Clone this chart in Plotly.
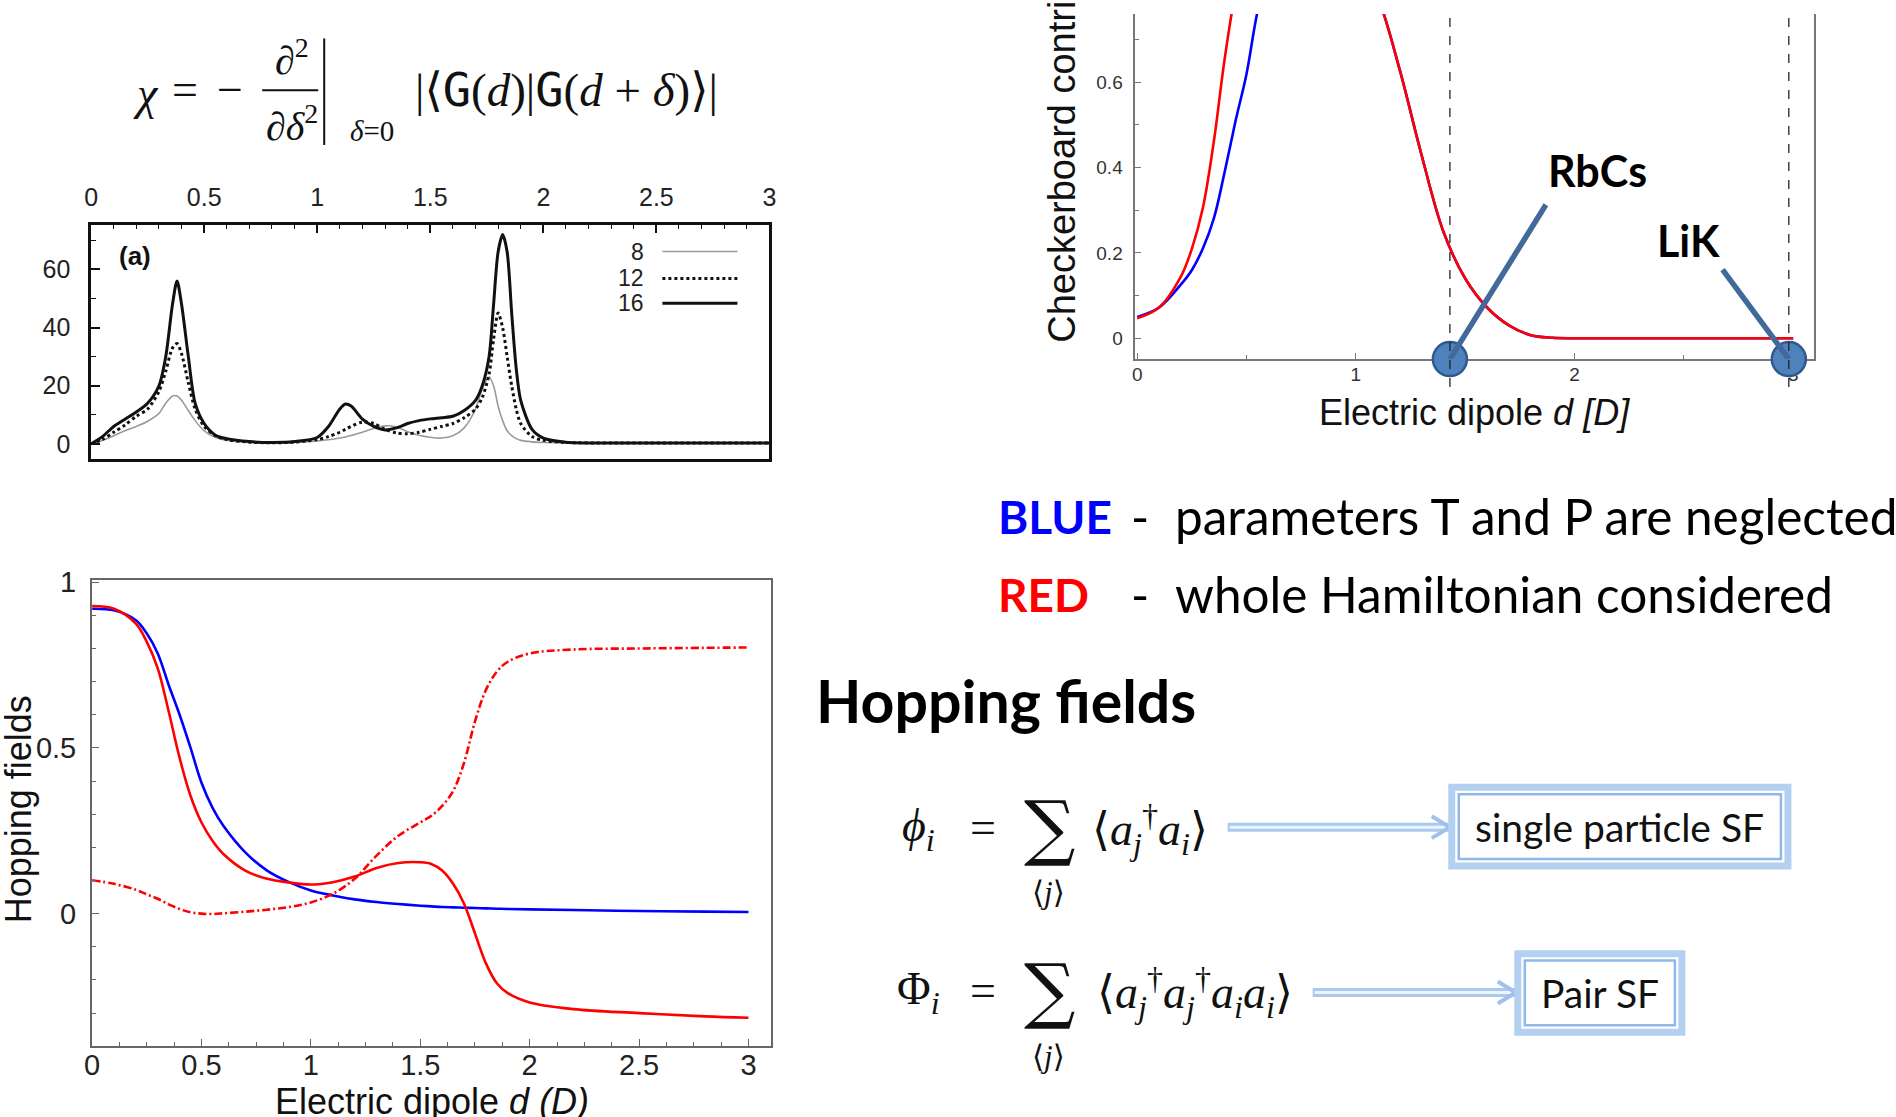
import plotly.graph_objects as go

# The page shows the figure with the browser's default 8 px body margin and the photo comes out
# about 0.9916 times the page size; positions below are given in photo pixels and converted.
OX, OY = 8, 8
SCALE = 0.9916
SHIFT_Y = -3.5
FW, FH = 1896, 1117

# ---------------- data ----------------
chi_x = [0, 0.05, 0.1, 0.15, 0.2, 0.25, 0.3, 0.33, 0.36, 0.38, 0.4, 0.43, 0.46, 0.5, 0.55,
         0.6, 0.7, 0.8, 0.9, 1.0, 1.05, 1.1, 1.125, 1.15, 1.2, 1.25, 1.3, 1.35, 1.4, 1.45,
         1.5, 1.55, 1.6, 1.65, 1.7, 1.73, 1.76, 1.78, 1.8, 1.82, 1.84, 1.86, 1.88, 1.9,
         1.95, 2.0, 2.1, 2.3, 2.6, 3.0]
chi_n8 = [0, 1.2, 2.8, 4.5, 6, 7.8, 10.5, 14, 16.5, 16.5, 15, 11.5, 8, 4.5, 2.2,
          1.2, 0.5, 0.4, 0.5, 1.0, 1.4, 2, 2.4, 2.9, 4, 5.3, 6.2, 5.8, 4.2, 3,
          2.3, 2, 2.8, 5.5, 12, 19, 23, 20, 13, 8, 4.5, 2.8, 1.8, 1.2,
          0.7, 0.5, 0.3, 0.3, 0.3, 0.3]
chi_n12 = [0, 1.5, 4, 6.5, 9.5, 12, 18, 25, 33, 34.5, 31, 21, 12, 6, 2.8,
           1.5, 0.6, 0.4, 0.6, 1.5, 2.5, 4, 5, 6, 7.5, 7, 5, 3.8, 3.5, 4,
           5, 6, 7, 9, 12, 16, 24, 36, 45, 40, 30, 20, 12, 7,
           2.5, 1.2, 0.5, 0.3, 0.3, 0.3]
chi_n16 = [0, 2.5, 6, 8.5, 11, 14, 20, 30, 48, 56, 48, 30, 14, 7, 3,
           1.8, 0.8, 0.5, 0.8, 2.2, 6, 12, 13.7, 13, 8.5, 6, 4.8, 5.5, 7, 8,
           8.6, 9, 9.5, 11.5, 15, 20, 30, 48, 66, 72, 66, 45, 26, 15,
           5, 2, 0.6, 0.3, 0.3, 0.3]
chi_sizes = ["8", "12", "16"]

hop_x = [0, 0.1, 0.2, 0.25, 0.3, 0.35, 0.4, 0.45, 0.5, 0.55, 0.6, 0.7, 0.8, 0.9, 1.0,
         1.1, 1.2, 1.3, 1.4, 1.5, 1.55, 1.6, 1.65, 1.7, 1.75, 1.8, 1.85, 1.9, 2.0,
         2.2, 2.5, 2.8, 3.0]
hop_blue = [0.92, 0.915, 0.885, 0.845, 0.785, 0.69, 0.6, 0.5, 0.395, 0.32, 0.265, 0.185,
            0.13, 0.095, 0.07, 0.055, 0.043, 0.035, 0.029, 0.024, 0.022, 0.02, 0.019,
            0.018, 0.017, 0.016, 0.015, 0.014, 0.013, 0.011, 0.008, 0.006, 0.005]
hop_red = [0.928, 0.92, 0.875, 0.82, 0.74, 0.61, 0.47, 0.355, 0.275, 0.22, 0.18, 0.13,
           0.105, 0.094, 0.088, 0.095, 0.112, 0.138, 0.153, 0.155, 0.15, 0.13, 0.09,
           0.03, -0.06, -0.15, -0.21, -0.24, -0.268, -0.288, -0.3, -0.31, -0.314]
hop_red_pair = [0.101, 0.09, 0.072, 0.058, 0.045, 0.028, 0.014, 0.004, 0.0, -0.001, 0.001,
                0.006, 0.012, 0.02, 0.034, 0.06, 0.105, 0.175, 0.235, 0.275, 0.295, 0.325,
                0.37, 0.455, 0.58, 0.675, 0.73, 0.76, 0.785, 0.797, 0.8, 0.802, 0.803]

chk_x = [0, 0.1, 0.2, 0.25, 0.3, 0.35, 0.4, 0.45, 0.5, 0.55, 0.6, 0.7, 0.8, 0.9, 1.0,
         1.1, 1.2, 1.3, 1.4, 1.5, 1.6, 1.7, 1.8, 1.9, 2.0, 2.2, 2.5, 2.8, 3.0]
chk_blue = [0.05, 0.072, 0.126, 0.16, 0.21, 0.28, 0.39, 0.51, 0.62, 0.765, 0.86, 0.95,
            0.99, 0.97, 0.9, 0.8, 0.63, 0.43, 0.25, 0.14, 0.072, 0.03, 0.007, 0.001,
            0.0, 0.0, 0.0, 0.0, 0.0]
chk_red = [0.047, 0.072, 0.145, 0.21, 0.305, 0.46, 0.655, 0.81, 0.9, 0.95, 0.98, 1.0,
           1.0, 0.97, 0.9, 0.8, 0.63, 0.43, 0.25, 0.14, 0.072, 0.03, 0.007, 0.001,
           0.0, 0.0, 0.0, 0.0, 0.0]

mol_names = ["RbCs", "LiK"]
mol_dipoles = [1.43, 2.98]

# ---------------- helpers: photo pixel -> paper ----------------
def PX(x):
    return (x / SCALE - OX) / FW


def PY(y):
    return 1 - ((y + SHIFT_Y) / SCALE - OY) / FH


SANS = "Liberation Sans, Arial, sans-serif"
SERIF = "Liberation Serif, DejaVu Serif, serif"
SLIDE = "Lato, Open Sans, sans-serif"
MONO = "<span style=\"font-family:'DejaVu Sans Mono'\">G</span>"

fig = go.Figure()

# (a) fidelity susceptibility
chi_styles = [dict(color="#9a9a9a", width=1.6),
              dict(color="#111111", width=3, dash="dot"),
              dict(color="#111111", width=3)]
for lbl, ys, st in zip(chi_sizes, [chi_n8, chi_n12, chi_n16], chi_styles):
    fig.add_trace(go.Scatter(x=chi_x, y=ys, mode="lines", name=lbl, line=dict(shape="spline", smoothing=0.8, **st),
                             xaxis="x", yaxis="y", showlegend=False))

# hopping fields
fig.add_trace(go.Scatter(x=hop_x, y=hop_blue, mode="lines", line=dict(color="#0000ff", width=2.6, shape="spline"),
                         xaxis="x2", yaxis="y2", showlegend=False))
fig.add_trace(go.Scatter(x=hop_x, y=hop_red, mode="lines", line=dict(color="#ff0000", width=2.6, shape="spline"),
                         xaxis="x2", yaxis="y2", showlegend=False))
fig.add_trace(go.Scatter(x=hop_x, y=hop_red_pair, mode="lines",
                         line=dict(color="#ff0000", width=2.6, shape="spline", dash="8px,3px,2px,3px"),
                         xaxis="x2", yaxis="y2", showlegend=False))

# checkerboard
fig.add_trace(go.Scatter(x=chk_x, y=chk_blue, mode="lines", line=dict(color="#0000ff", width=2.6, shape="spline"),
                         xaxis="x3", yaxis="y3", showlegend=False))
fig.add_trace(go.Scatter(x=chk_x, y=chk_red, mode="lines", line=dict(color="#ff0000", width=2.6, shape="spline"),
                         xaxis="x3", yaxis="y3", showlegend=False))

# checkerboard axis: y=0 at photo px 337, 428.5 px per unit; the plot runs up to the top of the figure
chk_top_px = OY * SCALE - SHIFT_Y
chk_yrange = [-0.049, (337 - chk_top_px) / 428.5]

shapes = []
annotations = []

# molecule dashed lines, callouts
for d in mol_dipoles:
    shapes.append(dict(type="line", xref="x3", yref="paper", x0=d, x1=d, y0=PY(386), y1=1.0,
                       line=dict(color="#222222", width=1.3, dash="dash"), layer="above"))
callout_tips = [(1.869, 0.3127), (2.677, 0.161)]
callout_text = [(1597, 169), (1688, 239)]
for d, (tx, ty), name, (lx, ly) in zip(mol_dipoles, callout_tips, mol_names, callout_text):
    shapes.append(dict(type="line", xref="x3", yref="y3", x0=d, y0=chk_yrange[0], x1=tx, y1=ty,
                       line=dict(color="#41699a", width=5.5), layer="above"))
    annotations.append(dict(text="<b>" + name + "</b>", x=PX(lx), y=PY(ly),
                            font=dict(family=SLIDE, size=43, color="#000000")))
fig.add_trace(go.Scatter(x=mol_dipoles, y=[chk_yrange[0]] * len(mol_dipoles), mode="markers",
                         marker=dict(size=34, color="#4f81bd", line=dict(color="#2f5a8c", width=2.5)),
                         cliponaxis=False, xaxis="x3", yaxis="y3", showlegend=False))

# ---------------- axes ----------------
def ax(**kw):
    base = dict(showgrid=False, zeroline=False, showline=True, ticks="inside", fixedrange=True)
    base.update(kw)
    return base


fig.update_layout(
    width=FW, height=FH, autosize=False,
    margin=dict(l=0, r=0, t=0, b=0, pad=0),
    paper_bgcolor="white", plot_bgcolor="white",
    xaxis=ax(domain=[PX(91), PX(769)], anchor="y", side="top", range=[0, 3], dtick=0.5, tick0=0,
             linecolor="#111", linewidth=2.6, mirror=True, ticklen=9, tickwidth=1.5, tickcolor="#111",
             minor=dict(ticks="inside", dtick=0.1, ticklen=5, tickwidth=1.3, tickcolor="#111"),
             tickfont=dict(family=SANS, size=25, color="#222"), ticklabelstandoff=6),
    yaxis=ax(domain=[PY(458), PY(223)], anchor="x", range=[-5.1, 75.4], dtick=20, tick0=0,
             linecolor="#111", linewidth=2.6, mirror=True, ticklen=9, tickwidth=1.5, tickcolor="#111",
             minor=dict(ticks="inside", dtick=10, ticklen=5, tickwidth=1.3, tickcolor="#111"),
             tickfont=dict(family=SANS, size=25, color="#222"), ticklabelstandoff=13),
    xaxis2=ax(domain=[PX(92), PX(771)], anchor="y2", range=[0, 3.105], dtick=0.5, tick0=0,
              linecolor="#666", linewidth=2.2, mirror=True, ticklen=7, tickwidth=1.3, tickcolor="#666",
              minor=dict(ticks="inside", dtick=0.125, ticklen=4, tickwidth=1.1, tickcolor="#666"),
              tickfont=dict(family=SANS, size=29, color="#222"), ticklabelstandoff=-8),
    yaxis2=ax(domain=[PY(1048), PY(580)], anchor="x2", range=[-0.4, 1.006], dtick=0.5, tick0=0,
              linecolor="#666", linewidth=2.2, mirror=True, ticklen=7, tickwidth=1.3, tickcolor="#666",
              minor=dict(ticks="inside", dtick=0.1, ticklen=4, tickwidth=1.1, tickcolor="#666"),
              tickfont=dict(family=SANS, size=29, color="#222"), ticklabelstandoff=8),
    xaxis3=ax(domain=[PX(1134), PX(1813)], anchor="y3", range=[-0.012, 3.095], dtick=1, tick0=0,
              linecolor="#777", linewidth=2.2, mirror=False, ticklen=6, tickwidth=1.2, tickcolor="#777",
              minor=dict(ticks="inside", dtick=0.5, ticklen=4, tickwidth=1.1, tickcolor="#777"),
              tickfont=dict(family=SANS, size=19, color="#333"), ticklabelstandoff=-3, layer="below traces"),
    yaxis3=ax(domain=[PY(358), 1.0], anchor="x3", range=chk_yrange, dtick=0.2, tick0=0,
              linecolor="#777", linewidth=2.2, mirror=True, ticklen=6, tickwidth=1.2, tickcolor="#777",
              minor=dict(ticks="inside", dtick=0.1, ticklen=4, tickwidth=1.1, tickcolor="#777"),
              tickfont=dict(family=SANS, size=19, color="#333"), ticklabelstandoff=6),
)

# ---------------- legend of (a) ----------------
leg_y = [250, 277, 302]
for lbl, st, yy in zip(chi_sizes, chi_styles, leg_y):
    shapes.append(dict(type="line", xref="paper", yref="paper", x0=PX(662), x1=PX(737), y0=PY(yy), y1=PY(yy),
                       line=st))
    annotations.append(dict(text=lbl, x=PX(646), y=PY(yy), xanchor="right",
                            font=dict(family=SANS, size=23, color="#222")))
annotations.append(dict(text="<b>(a)</b>", x=PX(135), y=PY(254),
                        font=dict(family=SANS, size=26, color="#111")))

# ---------------- axis titles ----------------
annotations += [
    dict(text="Hopping fields", x=PX(18), y=PY(810), textangle=-90, font=dict(family=SANS, size=36, color="#111")),
    dict(text="Electric dipole <i>d (D)</i>", x=PX(432), y=PY(1103), font=dict(family=SANS, size=36, color="#111")),
    dict(text="Electric dipole <i>d [D]</i>", x=PX(1474), y=PY(412), font=dict(family=SANS, size=36, color="#111")),
    dict(text="Checkerboard contribution", x=PX(1062), y=PY(344), textangle=-90, yanchor="bottom",
         font=dict(family=SANS, size=38, color="#111")),
]

# ---------------- chi formula ----------------
annotations += [
    dict(text="<i>χ</i>", x=PX(146), y=PY(91), font=dict(family=SERIF, size=46, color="#111")),
    dict(text="=", x=PX(185), y=PY(87), font=dict(family=SERIF, size=46, color="#111")),
    dict(text="−", x=PX(230), y=PY(87), font=dict(family=SERIF, size=46, color="#111")),
    dict(text="∂<sup>2</sup>", x=PX(292), y=PY(55), font=dict(family=SERIF, size=40, color="#111")),
    dict(text="∂<i>δ</i><sup>2</sup>", x=PX(292), y=PY(121), font=dict(family=SERIF, size=40, color="#111")),
    dict(text="<i>δ</i>=0", x=PX(372), y=PY(129), font=dict(family=SERIF, size=29, color="#111")),
    dict(text="|⟨" + MONO + "(<i>d</i>)|" + MONO + "(<i>d</i> + <i>δ</i>)⟩|", x=PX(566), y=PY(87),
         font=dict(family=SERIF, size=47, color="#111")),
]
shapes += [
    dict(type="line", xref="paper", yref="paper", x0=PX(262), x1=PX(318), y0=PY(88), y1=PY(88),
         line=dict(color="#111", width=2)),
    dict(type="line", xref="paper", yref="paper", x0=PX(324), x1=PX(324), y0=PY(36), y1=PY(143),
         line=dict(color="#111", width=2)),
]

# ---------------- right-hand slide text ----------------
annotations += [
    dict(text="<b>BLUE</b>", x=PX(995), y=PY(516), xanchor="left", font=dict(family=SLIDE, size=46, color="#0000ff")),
    dict(text="-", x=PX(1139), y=PY(516), font=dict(family=SLIDE, size=49, color="#000")),
    dict(text="parameters T and P are neglected", x=PX(1172), y=PY(516), xanchor="left",
         font=dict(family=SLIDE, size=49.5, color="#000")),
    dict(text="<b>RED</b>", x=PX(995), y=PY(594), xanchor="left", font=dict(family=SLIDE, size=46, color="#ff0000")),
    dict(text="-", x=PX(1139), y=PY(594), font=dict(family=SLIDE, size=49, color="#000")),
    dict(text="whole Hamiltonian considered", x=PX(1172), y=PY(594), xanchor="left",
         font=dict(family=SLIDE, size=49.5, color="#000")),
    dict(text="<b>Hopping fields</b>", x=PX(814), y=PY(701), xanchor="left",
         font=dict(family=SLIDE, size=59, color="#000")),
]

# formulas
for sym, yy, body, bx in [("<i>ϕ</i><sub><i>i</i></sub>", 830, "⟨<i>a</i><sub><i>j</i></sub><sup>†</sup><i>a</i><sub><i>i</i></sub>⟩", 1149),
                          ("Φ<sub><i>i</i></sub>", 994,
                           "⟨<i>a</i><sub><i>j</i></sub><sup>†</sup><i>a</i><sub><i>j</i></sub><sup>†</sup><i>a</i><sub><i>i</i></sub><i>a</i><sub><i>i</i></sub>⟩", 1194)]:
    annotations += [
        dict(text=sym, x=PX(918), y=PY(yy), font=dict(family=SERIF, size=46, color="#111")),
        dict(text="=", x=PX(982), y=PY(yy - 2), font=dict(family=SERIF, size=46, color="#111")),
        dict(text="∑", x=PX(1049), y=PY(yy - 2), font=dict(family="DejaVu Serif, serif", size=72, color="#111")),
        dict(text="⟨<i>j</i>⟩", x=PX(1048), y=PY(yy + 64), font=dict(family=SERIF, size=31, color="#111")),
        dict(text=body, x=PX(bx), y=PY(yy), font=dict(family=SERIF, size=46, color="#111")),
    ]

# arrows + boxes
for (ax0, ax1, ay), (bx0, by0, bx1, by1), label in [
        ((1227, 1449, 828), (1451, 788, 1787, 867), "single particle SF"),
        ((1312, 1515, 994), (1517, 955, 1681, 1034), "Pair SF")]:
    shapes += [
        dict(type="line", xref="paper", yref="paper", x0=PX(ax0), x1=PX(ax1), y0=PY(ay), y1=PY(ay),
             line=dict(color="#a9c9ef", width=9)),
        dict(type="line", xref="paper", yref="paper", x0=PX(ax0 + 2), x1=PX(ax1 - 4), y0=PY(ay), y1=PY(ay),
             line=dict(color="#eef4fc", width=3)),
        dict(type="path", xref="paper", yref="paper",
             path="M %f %f L %f %f L %f %f" % (PX(ax1 - 18), PY(ay - 11), PX(ax1), PY(ay), PX(ax1 - 18), PY(ay + 11)),
             line=dict(color="#9fc2ec", width=4)),
        dict(type="rect", xref="paper", yref="paper", x0=PX(bx0), x1=PX(bx1), y0=PY(by0), y1=PY(by1),
             line=dict(color="#b3d0f1", width=7)),
        dict(type="rect", xref="paper", yref="paper", x0=PX(bx0 + 7), x1=PX(bx1 - 7), y0=PY(by0 + 7), y1=PY(by1 - 7),
             line=dict(color="#8fb7e8", width=2.5)),
    ]
    annotations.append(dict(text=label, x=PX((bx0 + bx1) / 2), y=PY((by0 + by1) / 2),
                            font=dict(family=SLIDE, size=39, color="#111")))

for a in annotations:
    a.setdefault("xref", "paper")
    a.setdefault("yref", "paper")
    a.setdefault("showarrow", False)
    a.setdefault("xanchor", "center")
    a.setdefault("yanchor", "middle")

fig.update_layout(shapes=shapes, annotations=annotations)
fig.write_html("out.html", config={"displayModeBar": False})
